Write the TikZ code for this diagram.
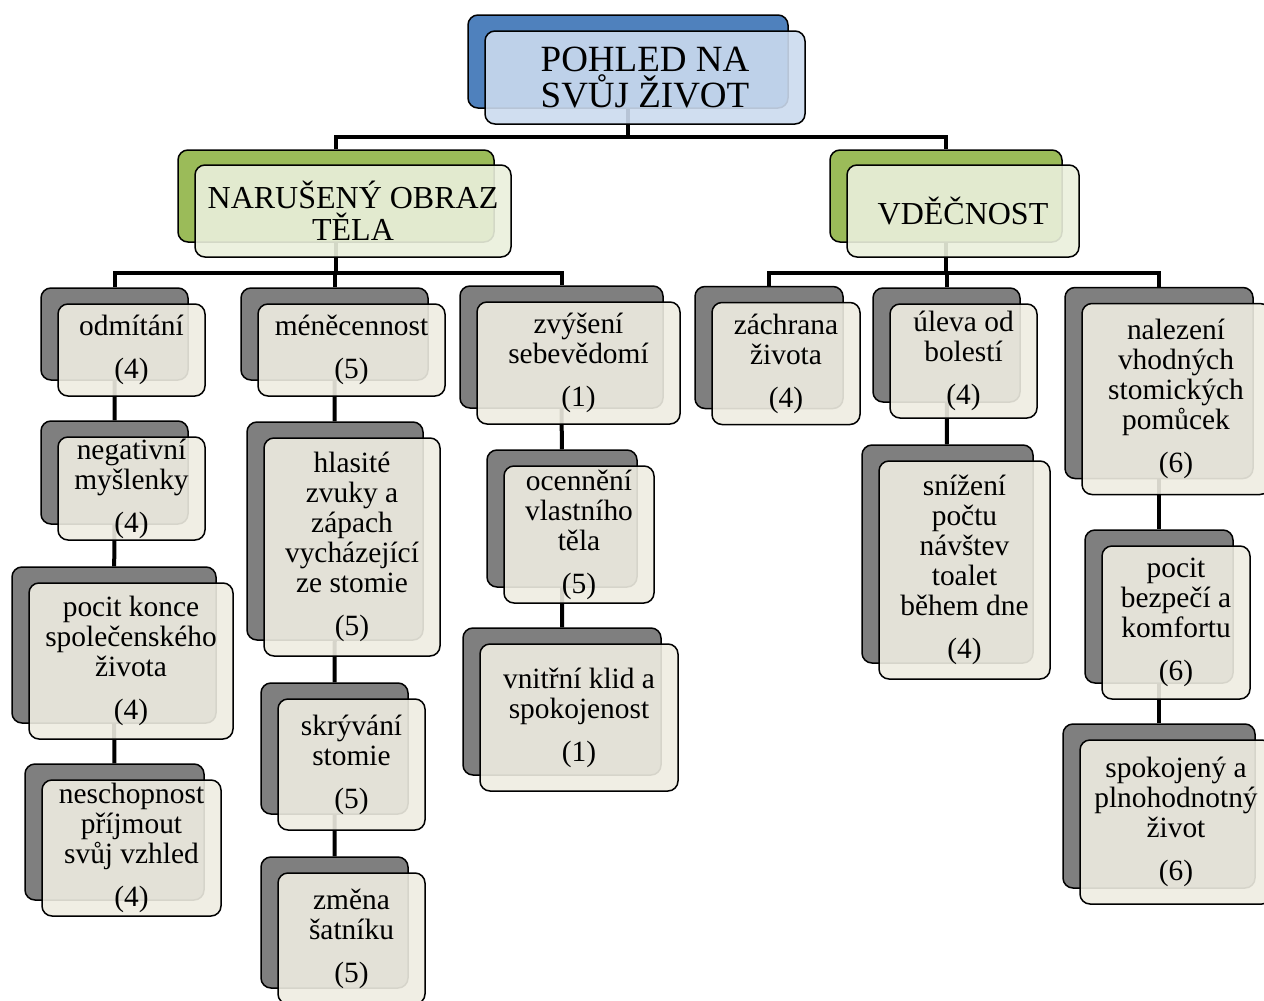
\documentclass[tikz,border=0pt]{standalone}
\usepackage{fontspec}
\setmainfont{Liberation Serif}
\usetikzlibrary{calc}

\definecolor{modra}{HTML}{4F81BD}
\definecolor{modrasv}{HTML}{CBDAEE}
\definecolor{zelena}{HTML}{9BBB59}
\definecolor{zelenasv}{HTML}{EAF0DC}
\definecolor{seda}{HTML}{7F7F7F}
\definecolor{bezova}{HTML}{EEECE1}

\pgfdeclarelayer{pozadi}
\pgfsetlayers{pozadi,main}

\tikzset{
    rozmer/.style 2 args={minimum width=#1*0.5pt, minimum height=#2*0.5pt},
    zadni/.style={draw=black, line width=0.75pt, rounded corners=5pt, fill=seda, inner sep=0pt},
    predni/.style={zadni, fill=bezova, fill opacity=0.9, text opacity=1, align=center,
        font=\fontsize{14.7}{15}\selectfont},
    spoj/.style={line width=2pt, black}
}

\begin{document}
\begin{tikzpicture}[x=0.5pt, y=-0.5pt]
    \useasboundingbox (0,0) rectangle (1264,1001);

    % koren
    \node[zadni, fill=modra, rozmer={320}{93}] (root) at (628,61.5) {};
    \node[predni, fill=modrasv, rozmer={320}{93}, font=\fontsize{18.5}{18}\selectfont] (rootT) at ($(root)+(17,16)$) {POHLED NA\\SVŮJ ŽIVOT};

    % druha uroven
    \node[zadni, fill=zelena, rozmer={316}{92}] (narus) at (336,196) {};
    \node[predni, fill=zelenasv, rozmer={316}{92}, font=\fontsize{16}{16}\selectfont] (narusT) at ($(narus)+(17,15)$) {NARUŠENÝ OBRAZ\\TĚLA};
    \node[zadni, fill=zelena, rozmer={232}{92}] (vdek) at (946,196) {};
    \node[predni, fill=zelenasv, rozmer={232}{92}, font=\fontsize{16}{16}\selectfont] (vdekT) at ($(vdek)+(17,15)$) {VDĚČNOST};

    % narušený obraz těla
    \node[zadni, rozmer={147}{92}] (odm) at (114.5,334) {};
    \node[predni, rozmer={147}{92}] (odmT) at ($(odm)+(17,16)$) {odmítání\\[6.5pt](4)};
    \node[zadni, rozmer={147}{103}] (neg) at (114.5,472.5) {};
    \node[predni, rozmer={147}{103}] (negT) at ($(neg)+(17,16)$) {negativní\\myšlenky\\[6.5pt](4)};
    \node[zadni, rozmer={204}{156}] (poc) at (114,645) {};
    \node[predni, rozmer={204}{156}] (pocT) at ($(poc)+(17,16)$) {pocit konce\\společenského\\života\\[6.5pt](4)};
    \node[zadni, rozmer={179}{136}] (nesch) at (114.5,832) {};
    \node[predni, rozmer={179}{136}] (neschT) at ($(nesch)+(17,16)$) {neschopnost\\příjmout\\svůj vzhled\\[6.5pt](4)};

    \node[zadni, rozmer={187}{92}] (men) at (334.5,334) {};
    \node[predni, rozmer={187}{92}] (menT) at ($(men)+(17,16)$) {méněcennost\\[6.5pt](5)};
    \node[zadni, rozmer={176}{218}] (hla) at (335,531) {};
    \node[predni, rozmer={176}{218}] (hlaT) at ($(hla)+(17,16)$) {hlasité\\zvuky a\\zápach\\vycházející\\ze stomie\\[6.5pt](5)};
    \node[zadni, rozmer={147}{131}] (skr) at (334.5,748.5) {};
    \node[predni, rozmer={147}{131}] (skrT) at ($(skr)+(17,16)$) {skrývání\\stomie\\[6.5pt](5)};
    \node[zadni, rozmer={147}{131}] (zmen) at (334.5,922.5) {};
    \node[predni, rozmer={147}{131}] (zmenT) at ($(zmen)+(17,16)$) {změna\\šatníku\\[6.5pt](5)};

    \node[zadni, rozmer={203}{122}] (zvy) at (561.5,347) {};
    \node[predni, rozmer={203}{122}] (zvyT) at ($(zvy)+(17,16)$) {zvýšení\\sebevědomí\\[6.5pt](1)};
    \node[zadni, rozmer={150}{137}] (oce) at (562,518.5) {};
    \node[predni, rozmer={150}{137}] (oceT) at ($(oce)+(17,16)$) {ocennění\\vlastního\\těla\\[6.5pt](5)};
    \node[zadni, rozmer={198}{147}] (vni) at (562,701.5) {};
    \node[predni, rozmer={198}{147}] (vniT) at ($(vni)+(17,16)$) {vnitřní klid a\\spokojenost\\[6.5pt](1)};

    % vděčnost
    \node[zadni, rozmer={148}{122}] (zach) at (769,347.5) {};
    \node[predni, rozmer={148}{122}] (zachT) at ($(zach)+(17,16)$) {záchrana\\života\\[6.5pt](4)};
    \node[zadni, rozmer={147}{114}] (ulev) at (946.5,345) {};
    \node[predni, rozmer={147}{114}] (ulevT) at ($(ulev)+(17,16)$) {úleva od\\bolestí\\[6.5pt](4)};
    \node[zadni, rozmer={171}{218}] (sni) at (947.5,554) {};
    \node[predni, rozmer={171}{218}] (sniT) at ($(sni)+(17,16)$) {snížení\\počtu\\návštev\\toalet\\během dne\\[6.5pt](4)};

    \node[zadni, rozmer={188}{191}] (nal) at (1159,383) {};
    \node[predni, rozmer={188}{191}] (nalT) at ($(nal)+(17,16)$) {nalezení\\vhodných\\stomických\\pomůcek\\[6.5pt](6)};
    \node[zadni, rozmer={148}{153}] (bez) at (1159,606.5) {};
    \node[predni, rozmer={148}{153}] (bezT) at ($(bez)+(17,16)$) {pocit\\bezpečí a\\komfortu\\[6.5pt](6)};
    \node[zadni, rozmer={192}{164}] (spok) at (1159,806) {};
    \node[predni, rozmer={192}{164}] (spokT) at ($(spok)+(17,16)$) {spokojený a\\plnohodnotný\\život\\[6.5pt](6)};

    % spojnice
    \coordinate (busR) at (628,137);
    \coordinate (busN) at (336,273);
    \coordinate (busV) at (946,273);
    \begin{pgfonlayer}{pozadi}
        \draw[spoj] (root) -- (busR);
        \draw[spoj] (narus) |- (busR) -| (vdek);
        \draw[spoj] (narus) -- (busN);
        \draw[spoj] (odm) |- (busN) -| (zvy);
        \draw[spoj] (men) |- (busN);
        \draw[spoj] (vdek) -- (busV);
        \draw[spoj] (zach) |- (busV) -| (nal);
        \draw[spoj] (ulev) |- (busV);
        \draw[spoj] (odm) -- (neg) -- (poc) -- (nesch);
        \draw[spoj] (men) -- (hla) -- (skr) -- (zmen);
        \draw[spoj] (zvy) -- (oce) -- (vni);
        \draw[spoj] (ulev) -- (sni);
        \draw[spoj] (nal) -- (bez) -- (spok);
    \end{pgfonlayer}
\end{tikzpicture}
\end{document}
